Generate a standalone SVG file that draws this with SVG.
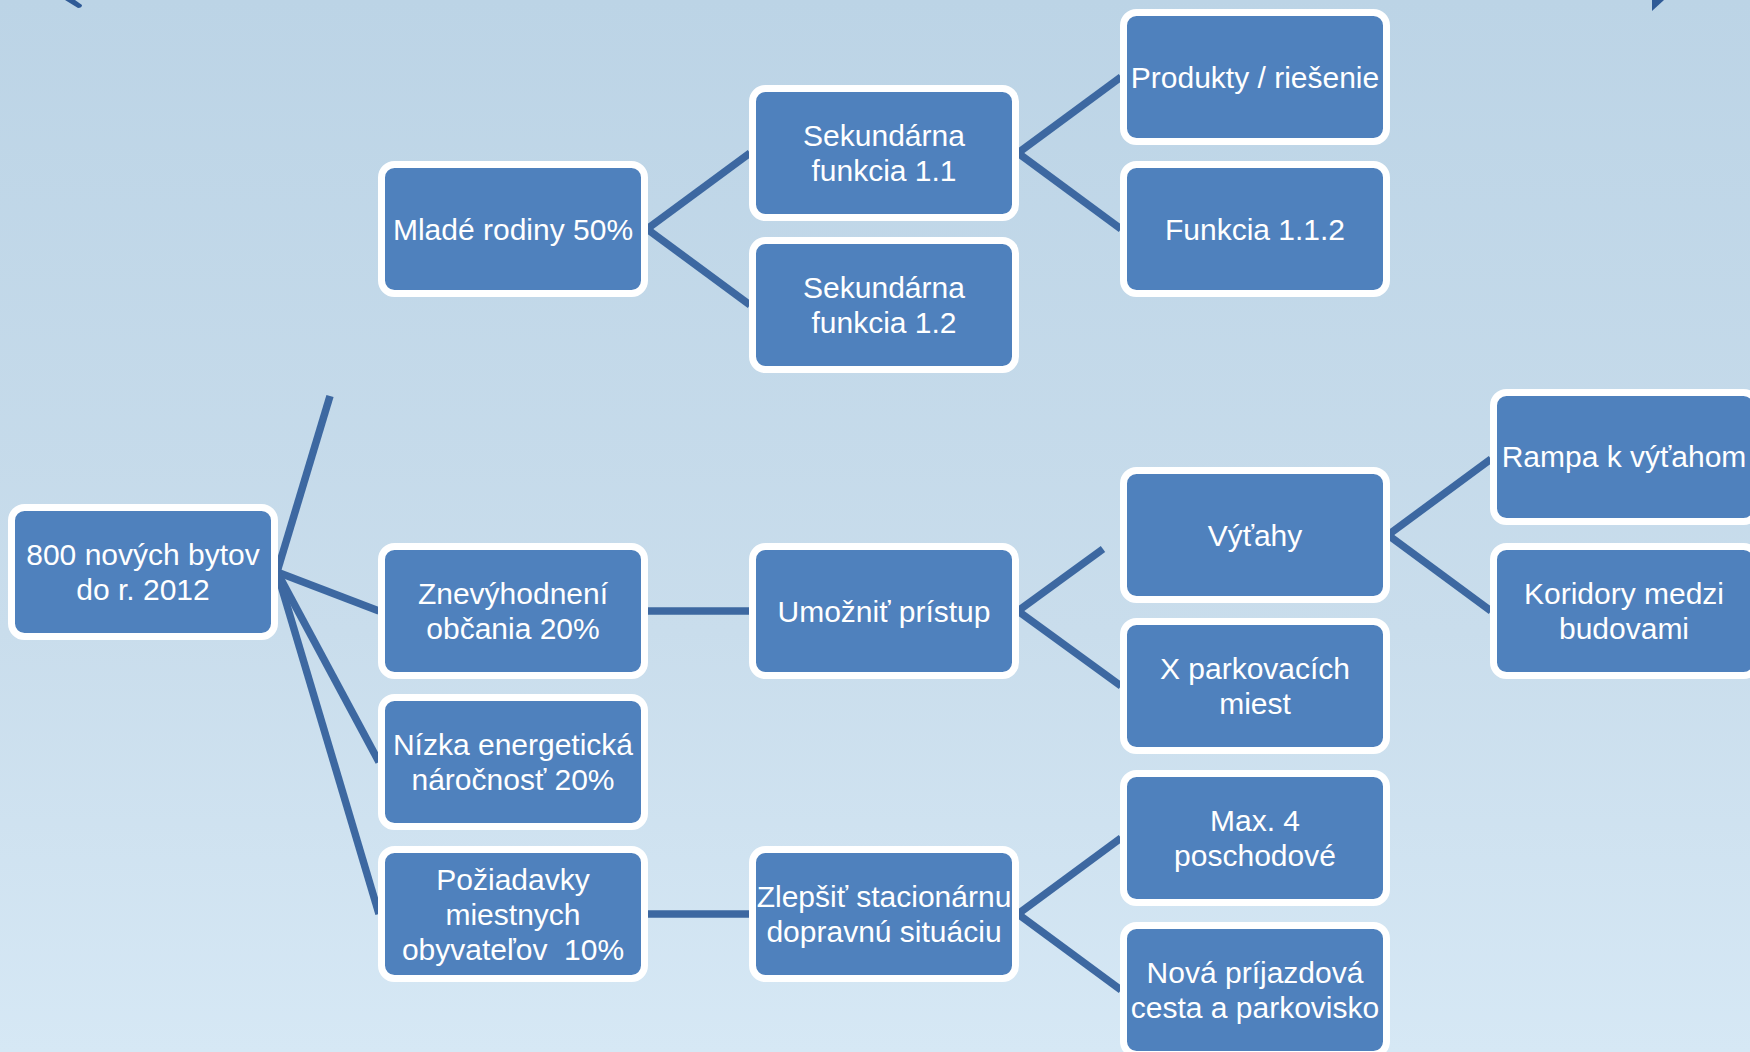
<svg xmlns="http://www.w3.org/2000/svg" width="1750" height="1052" viewBox="0 0 1750 1052">
<defs>
<linearGradient id="bg" x1="0" y1="0" x2="0" y2="1">
<stop offset="0" stop-color="#BCD4E6"/>
<stop offset="0.6" stop-color="#C9DDEC"/>
<stop offset="1" stop-color="#D6E8F5"/>
</linearGradient>
</defs>
<style>
.box{fill:#4F81BD;stroke:#FFFFFF;stroke-width:7}
.lbl{font-family:"Liberation Sans",Arial,sans-serif;font-size:30px;fill:#FFFFFF;text-anchor:middle;white-space:pre}
.con line{stroke:#3D68A1;stroke-width:7.5;stroke-linecap:butt}
.nav{fill:#2F5A96}
</style>
<rect x="0" y="0" width="1750" height="1052" fill="url(#bg)"/>
<path class="nav" d="M65,0 L75,0 L82,5 Q82,8 78,8 Z"/>
<polygon class="nav" points="1652,0 1664,0 1652,11"/>
<g id="connectors" class="con">
<line x1="277" y1="572" x2="330" y2="396"/>
<line x1="277" y1="572" x2="379" y2="611"/>
<line x1="277" y1="572" x2="379" y2="762"/>
<line x1="277" y1="572" x2="379" y2="914"/>
<line x1="647" y1="229" x2="750" y2="153"/>
<line x1="647" y1="229" x2="750" y2="305"/>
<line x1="1018" y1="153" x2="1121" y2="77"/>
<line x1="1018" y1="153" x2="1121" y2="229"/>
<line x1="647" y1="611" x2="750" y2="611"/>
<line x1="1018" y1="611" x2="1103" y2="549"/>
<line x1="1018" y1="611" x2="1121" y2="686"/>
<line x1="1388" y1="535" x2="1491" y2="459"/>
<line x1="1388" y1="535" x2="1491" y2="611"/>
<line x1="647" y1="914" x2="750" y2="914"/>
<line x1="1018" y1="914" x2="1121" y2="838"/>
<line x1="1018" y1="914" x2="1121" y2="990"/>
</g>
<g id="n-root"><rect class="box" x="11.5" y="507.5" width="263" height="129" rx="13"/><text class="lbl" x="143" y="565">800 nových bytov</text><text class="lbl" x="143" y="600">do r. 2012</text></g>
<g id="n-mlade"><rect class="box" x="381.5" y="164.5" width="263" height="129" rx="13"/><text class="lbl" x="513" y="240">Mladé rodiny 50%</text></g>
<g id="n-znev"><rect class="box" x="381.5" y="546.5" width="263" height="129" rx="13"/><text class="lbl" x="513" y="604">Znevýhodnení</text><text class="lbl" x="513" y="639">občania 20%</text></g>
<g id="n-nizka"><rect class="box" x="381.5" y="697.5" width="263" height="129" rx="13"/><text class="lbl" x="513" y="755">Nízka energetická</text><text class="lbl" x="513" y="790">náročnosť 20%</text></g>
<g id="n-poziad"><rect class="box" x="381.5" y="849.5" width="263" height="129" rx="13"/><text class="lbl" x="513" y="890">Požiadavky</text><text class="lbl" x="513" y="925">miestnych</text><text class="lbl" x="513" y="960">obyvateľov  10%</text></g>
<g id="n-sek11"><rect class="box" x="752.5" y="88.5" width="263" height="129" rx="13"/><text class="lbl" x="884" y="146">Sekundárna</text><text class="lbl" x="884" y="181">funkcia 1.1</text></g>
<g id="n-sek12"><rect class="box" x="752.5" y="240.5" width="263" height="129" rx="13"/><text class="lbl" x="884" y="298">Sekundárna</text><text class="lbl" x="884" y="333">funkcia 1.2</text></g>
<g id="n-umoznit"><rect class="box" x="752.5" y="546.5" width="263" height="129" rx="13"/><text class="lbl" x="884" y="622">Umožniť prístup</text></g>
<g id="n-zlepsit"><rect class="box" x="752.5" y="849.5" width="263" height="129" rx="13"/><text class="lbl" x="884" y="907">Zlepšiť stacionárnu</text><text class="lbl" x="884" y="942">dopravnú situáciu</text></g>
<g id="n-produkty"><rect class="box" x="1123.5" y="12.5" width="263" height="129" rx="13"/><text class="lbl" x="1255" y="88">Produkty / riešenie</text></g>
<g id="n-funkcia"><rect class="box" x="1123.5" y="164.5" width="263" height="129" rx="13"/><text class="lbl" x="1255" y="240">Funkcia 1.1.2</text></g>
<g id="n-vytahy"><rect class="box" x="1123.5" y="470.5" width="263" height="129" rx="13"/><text class="lbl" x="1255" y="546">Výťahy</text></g>
<g id="n-xpark"><rect class="box" x="1123.5" y="621.5" width="263" height="129" rx="13"/><text class="lbl" x="1255" y="679">X parkovacích</text><text class="lbl" x="1255" y="714">miest</text></g>
<g id="n-max4"><rect class="box" x="1123.5" y="773.5" width="263" height="129" rx="13"/><text class="lbl" x="1255" y="831">Max. 4</text><text class="lbl" x="1255" y="866">poschodové</text></g>
<g id="n-nova"><rect class="box" x="1123.5" y="925.5" width="263" height="129" rx="13"/><text class="lbl" x="1255" y="983">Nová príjazdová</text><text class="lbl" x="1255" y="1018">cesta a parkovisko</text></g>
<g id="n-rampa"><rect class="box" x="1493.5" y="392.5" width="263" height="129" rx="13"/><text class="lbl" x="1624" y="467">Rampa k výťahom</text></g>
<g id="n-koridory"><rect class="box" x="1493.5" y="546.5" width="263" height="129" rx="13"/><text class="lbl" x="1624" y="604">Koridory medzi</text><text class="lbl" x="1624" y="639">budovami</text></g>
</svg>
